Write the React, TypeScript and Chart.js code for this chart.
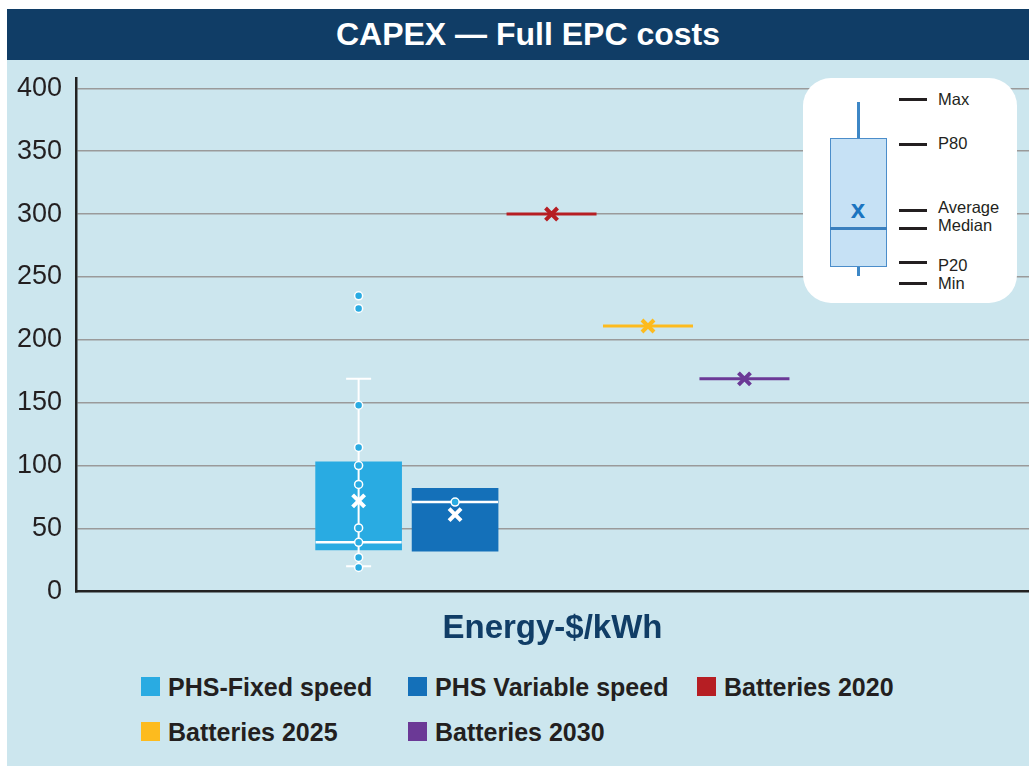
import React, { useEffect, useRef } from 'react';
import { Chart, registerables } from 'chart.js';

Chart.register(...registerables);

// ---------- data ----------
const chartTitle = 'CAPEX — Full EPC costs';
const xAxisTitle = 'Energy-$/kWh';
const categories = ['PHS-Fixed speed', 'PHS Variable speed', 'Batteries 2020', 'Batteries 2025', 'Batteries 2030'];
const categoryColors = ['#29abe2', '#1470b9', '#b61e23', '#fdbb1e', '#6b3996'];

// box plots (category index 0 and 1)
const boxCategoryIndex = [0, 1];
const boxP20 = [33, 32];
const boxP80 = [103, 82];
const boxMedian = [39, 71];
const boxMean = [72, 61];

// whiskers (only PHS-Fixed speed)
const whiskerCategoryIndex = [0];
const whiskerMin = [20];
const whiskerMax = [169];

// individual observations
const fixedSpeedPoints = [235, 225, 148, 114.5, 100, 85, 50.5, 39, 27, 19];
const variableSpeedPoints = [71];

// batteries: single values
const batteryCategoryIndex = [2, 3, 4];
const batteryValues = [300, 211, 169];

// axes
const yMin = 0;
const yTickMax = 400;
const yAxisTop = 408;
const yStep = 50;
const xMin = -2.93;
const xMax = 6.95;

// inset legend
const insetLabels = ['Max', 'P80', 'Average', 'Median', 'P20', 'Min'];

// ---------- styles ----------
const FONT = '"Liberation Sans", Arial, Helvetica, sans-serif';
const BG = '#cce6ee';
const NAVY = '#103d66';
const TEXT = '#231f20';
const insetDashY = [21, 66, 132, 150, 184, 205];
const insetLabelY = [21, 65, 128.5, 147, 187, 205];

export default function App() {
  const canvasRef = useRef<HTMLCanvasElement | null>(null);

  useEffect(() => {
    if (!canvasRef.current) return;
    const datasets: any[] = [
      {
        type: 'scatter',
        label: 'fixed points',
        order: 1,
        data: fixedSpeedPoints.map((v) => ({ x: boxCategoryIndex[0], y: v })),
        pointStyle: 'circle',
        pointRadius: 4,
        pointHoverRadius: 4,
        backgroundColor: categoryColors[0],
        borderColor: '#ffffff',
        borderWidth: 1.5,
      },
      {
        type: 'scatter',
        label: 'variable points',
        order: 1,
        data: variableSpeedPoints.map((v) => ({ x: boxCategoryIndex[1], y: v })),
        pointStyle: 'circle',
        pointRadius: 4,
        pointHoverRadius: 4,
        backgroundColor: categoryColors[0],
        borderColor: '#ffffff',
        borderWidth: 1.5,
      },
      {
        type: 'scatter',
        label: 'box means',
        order: 1,
        data: boxCategoryIndex.map((x, i) => ({ x, y: boxMean[i] })),
        pointStyle: 'crossRot',
        pointRadius: 8.5,
        pointHoverRadius: 8.5,
        borderColor: '#ffffff',
        backgroundColor: '#ffffff',
        borderWidth: 4,
      },
      {
        type: 'scatter',
        label: 'battery means',
        order: 1,
        data: batteryCategoryIndex.map((x, i) => ({ x, y: batteryValues[i] })),
        pointStyle: 'crossRot',
        pointRadius: 8.5,
        pointHoverRadius: 8.5,
        borderColor: batteryCategoryIndex.map((c) => categoryColors[c]),
        backgroundColor: batteryCategoryIndex.map((c) => categoryColors[c]),
        borderWidth: 4,
      },
      {
        type: 'scatter',
        label: 'medians',
        order: 2,
        data: boxCategoryIndex.map((x, i) => ({ x, y: boxMedian[i] })),
        pointStyle: 'line',
        pointRadius: 43,
        pointHoverRadius: 43,
        borderColor: '#ffffff',
        borderWidth: 2.5,
      },
      {
        type: 'scatter',
        label: 'battery lines',
        order: 2,
        data: batteryCategoryIndex.map((x, i) => ({ x, y: batteryValues[i] })),
        pointStyle: 'line',
        pointRadius: 45,
        pointHoverRadius: 45,
        borderColor: batteryCategoryIndex.map((c) => categoryColors[c]),
        borderWidth: 3,
      },
      {
        type: 'scatter',
        label: 'whisker caps',
        order: 3,
        data: whiskerCategoryIndex.flatMap((x, i) => [
          { x, y: whiskerMin[i] },
          { x, y: whiskerMax[i] },
        ]),
        pointStyle: 'line',
        pointRadius: 12.5,
        pointHoverRadius: 12.5,
        borderColor: '#ffffff',
        borderWidth: 2,
      },
      ...whiskerCategoryIndex.map((x, i) => ({
        type: 'line',
        label: 'whisker',
        order: 3,
        data: [
          { x, y: whiskerMin[i] },
          { x, y: whiskerMax[i] },
        ],
        borderColor: '#ffffff',
        borderWidth: 2,
        pointRadius: 0,
        pointHoverRadius: 0,
        fill: false,
        showLine: true,
      })),
      {
        type: 'bar',
        label: 'boxes',
        order: 4,
        data: boxCategoryIndex.map((x, i) => ({ x, y: [boxP20[i], boxP80[i]] })),
        backgroundColor: boxCategoryIndex.map((c) => categoryColors[c]),
        borderWidth: 0,
        barThickness: 86,
        grouped: false,
      },
    ];

    const chart = new Chart(canvasRef.current, {
      type: 'scatter',
      data: { datasets },
      options: {
        animation: false,
        responsive: false,
        maintainAspectRatio: false,
        events: [],
        layout: { autoPadding: false, padding: { top: 0, left: 0, right: 0, bottom: 0 } },
        plugins: {
          legend: { display: false },
          tooltip: { enabled: false },
          title: { display: false },
        },
        scales: {
          x: {
            type: 'linear',
            min: xMin,
            max: xMax,
            offset: false,
            ticks: { display: false },
            grid: { display: false, drawTicks: false },
            border: { display: true, color: '#222222', width: 2.5 },
            title: {
              display: true,
              text: xAxisTitle,
              color: NAVY,
              font: { family: FONT, size: 33, weight: 'bold' },
              padding: { top: 18, bottom: 0 },
            },
          },
          y: {
            type: 'linear',
            min: yMin,
            max: yAxisTop,
            ticks: {
              stepSize: yStep,
              includeBounds: false,
              padding: 14,
              color: TEXT,
              font: { family: FONT, size: 27 },
              callback: (v: any) => (Number(v) <= yTickMax ? String(v) : null),
            },
            grid: {
              drawTicks: false,
              lineWidth: 1.5,
              color: (ctx: any) =>
                ctx.tick && (ctx.tick.value === yMin || ctx.tick.value > yTickMax) ? 'rgba(0,0,0,0)' : '#9a9a9a',
            },
            border: { display: true, color: '#222222', width: 2.5 },
            afterFit: (scale: any) => {
              scale.width = 69;
            },
          },
        },
      } as any,
    });
    return () => chart.destroy();
  }, []);

  return (
    <div
      style={{
        position: 'fixed',
        left: 7,
        top: 9,
        width: 1022,
        height: 757,
        background: BG,
        fontFamily: FONT,
        overflow: 'hidden',
      }}
    >
      <div style={{ position: 'absolute', left: 0, top: 39, width: 1022, height: 601 }}>
        <canvas ref={canvasRef} width={1022} height={601} style={{ width: 1022, height: 601, display: 'block' }} />
      </div>

      <div
        style={{
          position: 'absolute',
          left: 0,
          top: 0,
          width: 1022,
          height: 51,
          background: NAVY,
          color: '#ffffff',
          fontWeight: 'bold',
          fontSize: 32,
          lineHeight: '51px',
          textAlign: 'center',
          paddingLeft: 20,
          boxSizing: 'border-box',
        }}
      >
        {chartTitle}
      </div>

      {/* inset explanatory legend */}
      <div
        style={{
          position: 'absolute',
          left: 796,
          top: 69,
          width: 214,
          height: 225,
          borderRadius: 28,
          background: '#ffffff',
        }}
      >
        <div style={{ position: 'absolute', left: 54, top: 24, width: 2.5, height: 36, background: '#3d87c6' }} />
        <div
          style={{
            position: 'absolute',
            left: 27,
            top: 60,
            width: 57,
            height: 129,
            background: '#c6e1f5',
            border: '1.5px solid #4b8dca',
            boxSizing: 'border-box',
          }}
        />
        <div style={{ position: 'absolute', left: 27, top: 148.5, width: 57, height: 3, background: '#3a7fbe' }} />
        <div style={{ position: 'absolute', left: 54, top: 189, width: 2.5, height: 9, background: '#3d87c6' }} />
        <div
          style={{
            position: 'absolute',
            left: 40,
            top: 117.5,
            width: 30,
            textAlign: 'center',
            fontSize: 26,
            lineHeight: '26px',
            fontWeight: 'bold',
            color: '#1b74c0',
          }}
        >
          x
        </div>
        {insetLabels.map((label, i) => (
          <React.Fragment key={label}>
            <div
              style={{
                position: 'absolute',
                left: 96,
                top: insetDashY[i] - 1.5,
                width: 28,
                height: 3,
                background: TEXT,
              }}
            />
            <div
              style={{
                position: 'absolute',
                left: 135,
                top: insetLabelY[i] - 10,
                fontSize: 16.5,
                lineHeight: '20px',
                color: TEXT,
                whiteSpace: 'nowrap',
              }}
            >
              {label}
            </div>
          </React.Fragment>
        ))}
      </div>

      {/* bottom legend */}
      <div
        style={{
          position: 'absolute',
          left: 134,
          top: 655,
          display: 'grid',
          gridTemplateColumns: '267px 289px auto',
          gridAutoRows: '45px',
        }}
      >
        {categories.map((c, i) => (
          <div key={c} style={{ display: 'flex', alignItems: 'center' }}>
            <div style={{ width: 19, height: 19, background: categoryColors[i], marginRight: 8, flex: 'none' }} />
            <span
              style={{
                fontSize: 25,
                fontWeight: 'bold',
                color: TEXT,
                whiteSpace: 'nowrap',
                lineHeight: '30px',
              }}
            >
              {c}
            </span>
          </div>
        ))}
      </div>
    </div>
  );
}
